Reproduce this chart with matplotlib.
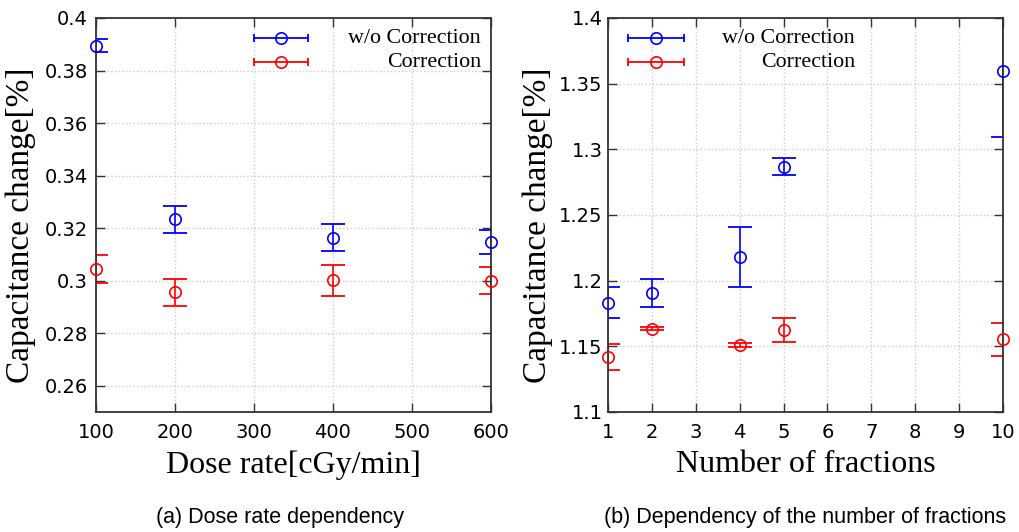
import matplotlib.pyplot as plt

# (a) dose rate dependency
dose_rate = [100, 200, 400, 600]
dose_wo = [0.3895, 0.3233, 0.3164, 0.3148]
dose_wo_err = [0.0025, 0.0050, 0.0053, 0.0045]
dose_corr = [0.3044, 0.2956, 0.3001, 0.3000]
dose_corr_err = [0.0053, 0.0052, 0.0058, 0.0052]

# (b) number of fractions
fractions = [1, 2, 4, 5, 10]
frac_wo = [1.1832, 1.1903, 1.2177, 1.2868, 1.3596]
frac_wo_err = [0.0119, 0.0107, 0.0228, 0.0063, 0.0505]
frac_corr = [1.1420, 1.1634, 1.1512, 1.1624, 1.1555]
frac_corr_err = [0.0098, 0.0012, 0.0015, 0.0089, 0.0125]

dose_ticks = [100, 200, 300, 400, 500, 600]
dose_yticks = [0.26, 0.28, 0.30, 0.32, 0.34, 0.36, 0.38, 0.40]
dose_ylabels = ['0.26', '0.28', '0.3', '0.32', '0.34', '0.36', '0.38', '0.4']
frac_ticks = [1, 2, 3, 4, 5, 6, 7, 8, 9, 10]
frac_yticks = [1.10, 1.15, 1.20, 1.25, 1.30, 1.35, 1.40]
frac_ylabels = ['1.1', '1.15', '1.2', '1.25', '1.3', '1.35', '1.4']

BLUE = '#0000ff'
RED = '#ff0000'
SERIF = 'Liberation Serif'
TICKFONT = 'DejaVu Sans'

fig = plt.figure(figsize=(10.19, 5.32), dpi=100)
ax1 = fig.add_axes([0.0942, 0.2256, 0.3876, 0.7406])
ax2 = fig.add_axes([0.5967, 0.2256, 0.3876, 0.7406])


def draw_series(ax, x, y, err, color):
    # bars stay under the frame, circles may hang over the edge
    ax.errorbar(x, y, yerr=err, fmt='none', ecolor=color, elinewidth=1.2,
                capsize=8.3, capthick=1.3, zorder=2)
    ax.plot(x, y, 'o', mfc='none', mec=color, ms=8.2, mew=1.2,
            clip_on=False, zorder=4)


def draw_key(ax, x0, x1, xtext, rows):
    xm = (x0 + x1) / 2
    for y, color, label in rows:
        ax.plot([x0, x1], [y, y], color=color, lw=1.3, transform=ax.transAxes)
        ax.plot([x0, x1], [y, y], '|', color=color, ms=5.5, mew=1.3,
                transform=ax.transAxes)
        ax.plot([xm], [y], 'o', mfc='none', mec=color, ms=8.2, mew=1.2,
                transform=ax.transAxes)
        ax.text(xtext, y, label, transform=ax.transAxes, ha='right',
                va='center', family=SERIF, fontsize=15.8)


def style_axes(ax, xticks, yticks, ylabels, ypad):
    ax.set_xticks(xticks)
    ax.set_xticklabels([str(t) for t in xticks])
    ax.set_yticks(yticks)
    ax.set_yticklabels(ylabels)
    ax.tick_params(direction='in', length=6.5, width=1.0, top=True, right=True,
                   labelsize=14, color='#333333')
    ax.tick_params(axis='x', pad=8)
    ax.tick_params(axis='y', pad=ypad)
    for lab in ax.get_xticklabels() + ax.get_yticklabels():
        lab.set_family(TICKFONT)
    for s in ax.spines.values():
        s.set_linewidth(1.3)
        s.set_color('#333333')
        s.set_zorder(3)
    ax.grid(True, linestyle=':', color='#cccccc', linewidth=1.0)
    ax.set_axisbelow(True)


# panel (a)
draw_series(ax1, dose_rate, dose_wo, dose_wo_err, BLUE)
draw_series(ax1, dose_rate, dose_corr, dose_corr_err, RED)
ax1.set_xlim(100, 600)
ax1.set_ylim(0.25, 0.4)
style_axes(ax1, dose_ticks, dose_yticks, dose_ylabels, 6.0)
ax1.set_xlabel('Dose rate[cGy/min]', family=SERIF, fontsize=23, va='center')
ax1.xaxis.set_label_coords(0.5, -0.1345)
ax1.set_ylabel('Capacitance change[%]', family=SERIF, fontsize=24, va='center')
ax1.yaxis.set_label_coords(-0.19, 0.475)
draw_key(ax1, 0.40, 0.537, 0.975,
         [(0.9485, BLUE, 'w/o Correction'), (0.888, RED, 'Correction')])

# panel (b)
draw_series(ax2, fractions, frac_wo, frac_wo_err, BLUE)
draw_series(ax2, fractions, frac_corr, frac_corr_err, RED)
ax2.set_xlim(1, 10)
ax2.set_ylim(1.1, 1.4)
style_axes(ax2, frac_ticks, frac_yticks, frac_ylabels, 4.0)
ax2.set_xlabel('Number of fractions', family=SERIF, fontsize=23, va='center')
ax2.xaxis.set_label_coords(0.5, -0.1345)
ax2.set_ylabel('Capacitance change[%]', family=SERIF, fontsize=24, va='center')
ax2.yaxis.set_label_coords(-0.177, 0.475)
draw_key(ax2, 0.0506, 0.192, 0.625,
         [(0.9485, BLUE, 'w/o Correction'), (0.888, RED, 'Correction')])

fig.text(280 / 1019, 1 - 517 / 532, '(a) Dose rate dependency',
         family='Liberation Sans', fontsize=15.5, ha='center', va='center')
fig.text(805 / 1019, 1 - 517 / 532, '(b) Dependency of the number of fractions',
         family='Liberation Sans', fontsize=15.5, ha='center', va='center')

fig.savefig('out.png', dpi=100)
